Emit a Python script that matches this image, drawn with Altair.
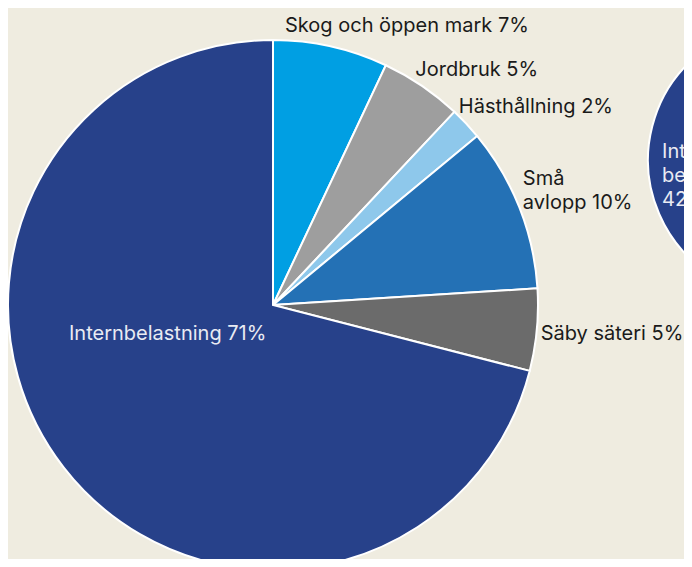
import altair as alt
import pandas as pd

# Main pie: shares (%), clockwise from 12 o'clock
categories = ["Skog och öppen mark", "Jordbruk", "Hästhållning", "Små avlopp", "Säby säteri", "Internbelastning"]
shares = [7, 5, 2, 10, 5, 71]
colors = ["#009fe3", "#9e9e9e", "#8ec8eb", "#2471b5", "#6b6b6b", "#27418a"]

# Labels (text, polar anchor angle in radians, radius in px)
label_texts = ["Skog och öppen mark 7%", "Jordbruk 5%", "Hästhållning 2%", "Små\navlopp 10%", "Säby säteri 5%", "Internbelastning 71%"]
label_theta = [0.044, 0.555, 0.770, 1.124, 1.702, 4.391]
label_radius = [273, 270, 267, 277, 270, 111]

# Second (partly visible) pie
categories2 = ["Övrigt", "Internbelastning "]
shares2 = [58, 42]
colors2 = ["#9e9e9e", "#27418a"]
label2_text = ["Intern-\nbelastning\n42%"]
label2_theta = [4.729]
label2_radius = [122]

BG = "#efece0"
FONT = "Inter"
FS = 20
CX, CY, R = 265, 297, 265
CX2, CY2, R2 = 776, 152, 136

pie_df = pd.DataFrame({"cat": categories, "value": shares, "idx": list(range(len(categories)))})
lab_df = pd.DataFrame({"text": label_texts, "t": label_theta, "r": label_radius})
pie2_df = pd.DataFrame({"cat": categories2, "value": shares2, "idx": list(range(len(categories2)))})
lab2_df = pd.DataFrame({"text": label2_text, "t": label2_theta, "r": label2_radius})

pie = alt.Chart(pie_df).mark_arc(radius=R, stroke="white", strokeWidth=2).encode(
    theta=alt.Theta("value:Q", stack=True),
    color=alt.Color("cat:N", scale=alt.Scale(domain=categories, range=colors), legend=None),
    order=alt.Order("idx:Q"),
    x=alt.value(CX),
    y=alt.value(CY),
)

pie2 = alt.Chart(pie2_df).mark_arc(radius=R2, stroke="white", strokeWidth=2).encode(
    theta=alt.Theta("value:Q", stack=True),
    color=alt.Color("cat:N", scale=alt.Scale(domain=categories2, range=colors2), legend=None),
    order=alt.Order("idx:Q"),
    x=alt.value(CX2),
    y=alt.value(CY2),
)

def label_layer(df, align, color, cx, cy):
    return alt.Chart(df).mark_text(
        align=align, baseline="alphabetic", font=FONT, fontSize=FS,
        color=color, lineBreak="\n", lineHeight=24,
    ).encode(
        text="text:N",
        theta=alt.Theta("t:Q", scale=None, stack=False),
        radius=alt.Radius("r:Q", scale=None),
        x=alt.value(cx),
        y=alt.value(cy),
    )

outer = label_layer(lab_df.iloc[0:5], "left", "#1a1a1a", CX, CY)
inner = label_layer(lab_df.iloc[5:6], "center", "#e9ebf3", CX, CY)
inner2 = label_layer(lab2_df, "left", "#e9ebf3", CX2, CY2)

chart = alt.layer(pie2, pie, outer, inner, inner2).resolve_scale(color="independent").properties(
    width=676, height=551,
    autosize=alt.AutoSizeParams(type="none"),
    padding=0,
    background=BG,
).configure_view(stroke=None)

chart.save("out.html", embed_options={"renderer": "svg", "actions": False})
